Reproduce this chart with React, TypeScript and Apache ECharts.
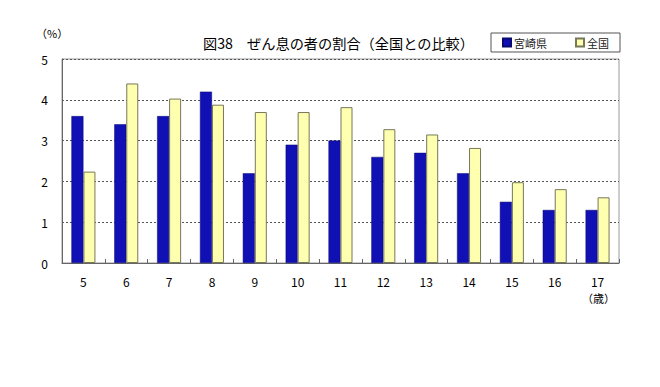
import React, { useEffect, useRef } from "react";
import * as echarts from "echarts";

const categories = ["5", "6", "7", "8", "9", "10", "11", "12", "13", "14", "15", "16", "17"];
const miyazaki = [3.6, 3.4, 3.6, 4.2, 2.2, 2.9, 3.0, 2.6, 2.7, 2.2, 1.5, 1.3, 1.3];
const zenkoku = [2.24, 4.4, 4.03, 3.88, 3.7, 3.7, 3.82, 3.28, 3.15, 2.82, 1.98, 1.81, 1.61];
const seriesNames = ["宮崎県", "全国"];
const titleText = "図38　ぜん息の者の割合（全国との比較）";

const FONT = "'Noto Sans CJK JP', 'Noto Sans', sans-serif";

export default function App() {
  const ref = useRef<HTMLDivElement>(null);
  useEffect(() => {
    if (!ref.current) return;
    const chart = echarts.init(ref.current, null, { renderer: "svg" });
    chart.setOption({
      animation: false,
      backgroundColor: "#ffffff",
      textStyle: { fontFamily: FONT },
      title: {
        text: titleText,
        left: 198,
        top: 31,
        textStyle: { fontSize: 14.2, fontWeight: "normal", color: "#000", fontFamily: FONT },
      },
      legend: {
        data: seriesNames,
        right: 40,
        top: 33,
        itemWidth: 8,
        itemHeight: 8,
        itemGap: 28,
        padding: [4, 11, 4, 11],
        borderColor: "#555",
        borderWidth: 1,
        icon: "rect",
        textStyle: { fontSize: 11, color: "#222", fontFamily: FONT, padding: [0, 0, 0, -2] },
      },
      grid: {
        left: 62,
        right: 41,
        top: 59,
        bottom: 124,
        show: true,
        borderColor: "#999",
        borderWidth: 1,
        backgroundColor: "transparent",
      },
      xAxis: {
        type: "category",
        data: categories,
        axisLine: { show: true, lineStyle: { color: "#666", width: 1 } },
        axisTick: { show: true, inside: true, length: 4, lineStyle: { color: "#666" } },
        axisLabel: { color: "#000", fontSize: 12, margin: 12, fontFamily: FONT },
      },
      yAxis: {
        type: "value",
        min: 0,
        max: 5,
        interval: 1,
        axisLine: { show: true, lineStyle: { color: "#666", width: 1 } },
        axisTick: { show: false },
        axisLabel: { color: "#000", fontSize: 12, margin: 14, fontFamily: FONT },
        splitLine: { show: true, lineStyle: { color: "#555", type: [2, 2], width: 1 } },
      },
      graphic: [
        {
          type: "text",
          left: 36,
          top: 27,
          style: { text: "（%）", fontSize: 11, fill: "#000", fontFamily: FONT },
        },
        {
          type: "text",
          left: 582,
          top: 292,
          style: { text: "（歳）", fontSize: 11, fill: "#000", fontFamily: FONT },
        },
      ],
      series: [
        {
          name: seriesNames[0],
          type: "bar",
          data: miyazaki,
          barWidth: 12,
          barGap: "0%",
          itemStyle: { color: "#1010B4", borderColor: "#0a0a70", borderWidth: 0.5 },
        },
        {
          name: seriesNames[1],
          type: "bar",
          data: zenkoku,
          barWidth: 12,
          barGap: "0%",
          itemStyle: { color: "#FFFFB0", borderColor: "#77775a", borderWidth: 1 },
        },
      ],
    });
    return () => chart.dispose();
  }, []);
  return <div ref={ref} style={{ width: 660, height: 387, position: "absolute", left: 0, top: 0 }} />;
}
